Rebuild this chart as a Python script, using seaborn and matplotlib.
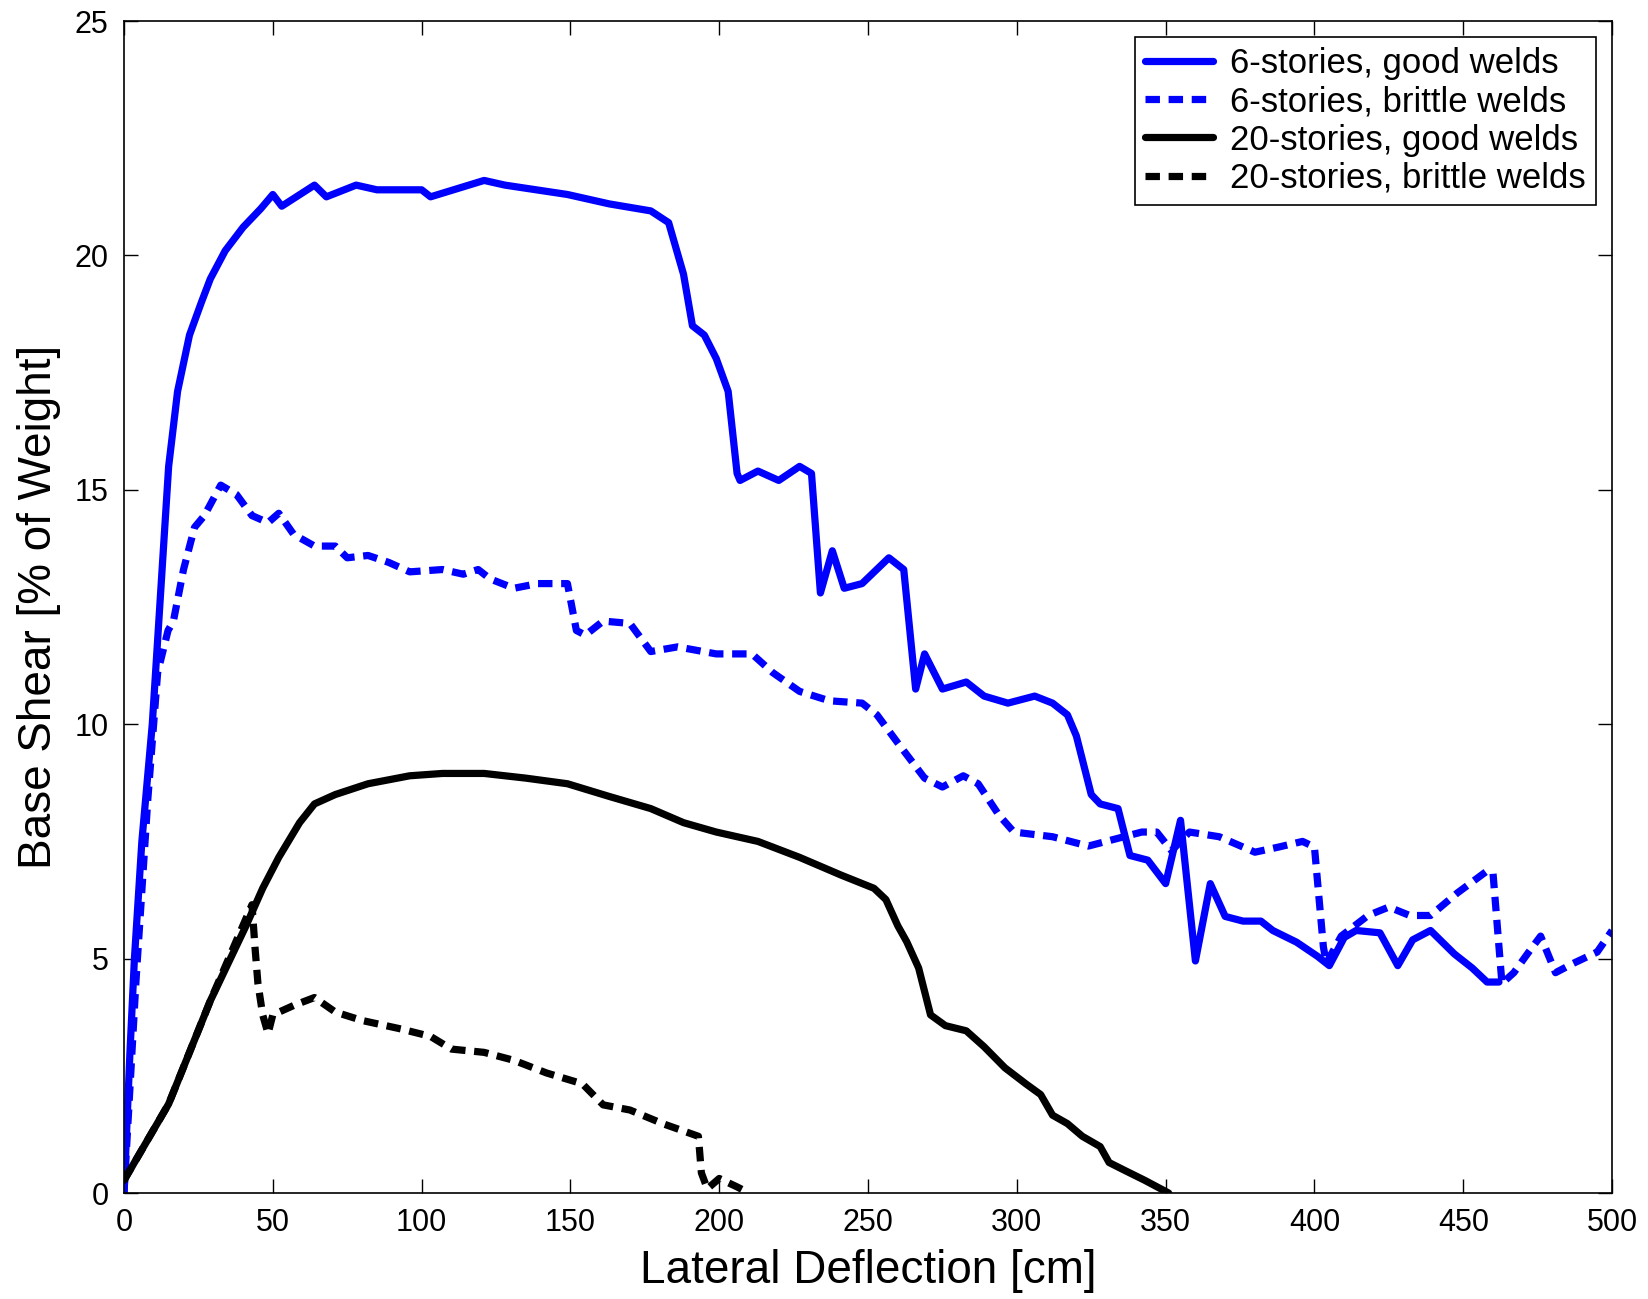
import matplotlib
matplotlib.use('agg')
import matplotlib.pyplot as plt
import pandas as pd
import seaborn as sns

# 6-stories, good welds
x_6_good = [0, 2, 3.5, 6, 9.5, 12, 15, 18, 22, 26, 29, 34, 40, 46, 50, 53, 64, 68, 78, 85, 100,
            103, 121, 128, 149, 163, 177, 183, 188, 191, 195, 199, 203, 206, 207, 213, 220, 227,
            231, 234, 238, 242, 248, 257, 262, 266, 269, 275, 283, 289, 297, 306, 312, 317, 320,
            325, 328, 334, 338, 344, 350, 355, 360, 365, 370, 376, 382, 386, 394, 401, 405, 410,
            414, 422, 428, 433, 439, 447, 453, 458, 462]
y_6_good = [0, 3, 5, 7.5, 10, 12.5, 15.5, 17.1, 18.3, 19.0, 19.5, 20.1, 20.6, 21.0, 21.3, 21.05,
            21.5, 21.25, 21.5, 21.4, 21.4, 21.25, 21.6, 21.5, 21.3, 21.1, 20.95, 20.7, 19.6, 18.5,
            18.3, 17.8, 17.1, 15.35, 15.2, 15.4, 15.2, 15.5, 15.35, 12.8, 13.7, 12.9, 13.0, 13.55,
            13.3, 10.75, 11.5, 10.75, 10.9, 10.6, 10.45, 10.6, 10.45, 10.2, 9.75, 8.5, 8.3, 8.2,
            7.2, 7.1, 6.6, 7.95, 4.95, 6.6, 5.9, 5.8, 5.8, 5.6, 5.35, 5.05, 4.85, 5.45, 5.6, 5.55,
            4.85, 5.4, 5.6, 5.1, 4.8, 4.5, 4.5]

# 6-stories, brittle welds
x_6_brittle = [0, 4, 8, 11.3, 14.8, 16.6, 20, 23.7, 27, 32.5, 37.8, 43, 48.4, 52, 57, 64, 71, 75,
               82, 89, 96, 107, 114, 119, 123, 131, 139, 149, 152, 155, 161, 170, 177, 186, 199,
               211, 218, 227, 237, 248, 253, 260, 269, 275, 282, 287, 294, 299, 312, 324, 333,
               342, 347, 352, 358, 368, 380, 388, 396, 400, 403, 404, 409, 418, 425, 432, 439,
               448, 458, 460, 463, 467, 472, 476, 481, 487, 495, 500]
y_6_brittle = [0, 4.5, 8.4, 11.1, 12.0, 12.2, 13.3, 14.2, 14.45, 15.1, 14.9, 14.45, 14.3, 14.5,
               14.05, 13.8, 13.8, 13.55, 13.6, 13.45, 13.25, 13.3, 13.2, 13.3, 13.1, 12.9, 13.0,
               13.0, 12.0, 11.9, 12.2, 12.15, 11.55, 11.65, 11.5, 11.5, 11.1, 10.7, 10.5, 10.45,
               10.2, 9.6, 8.85, 8.66, 8.9, 8.73, 8.06, 7.7, 7.6, 7.4, 7.55, 7.7, 7.7, 7.3, 7.7,
               7.6, 7.27, 7.38, 7.5, 7.38, 5.25, 4.9, 5.48, 5.92, 6.1, 5.92, 5.92, 6.4, 6.87,
               6.82, 4.47, 4.7, 5.14, 5.48, 4.7, 4.9, 5.14, 5.6]

# 20-stories, good welds
x_20_good = [0, 15, 29, 41, 46.6, 52, 59, 64, 71, 82, 96, 107, 121, 135, 149, 163, 177, 188, 199,
             213, 227, 241, 252, 256, 260, 263, 267, 271, 276, 283, 289, 296, 303, 308, 312, 317,
             322, 328, 331, 336, 343, 351]
y_20_good = [0.27, 1.9, 4.1, 5.7, 6.5, 7.16, 7.9, 8.3, 8.5, 8.73, 8.9, 8.95, 8.95, 8.85, 8.73,
             8.46, 8.2, 7.9, 7.7, 7.5, 7.16, 6.78, 6.5, 6.26, 5.7, 5.36, 4.8, 3.8, 3.57, 3.46,
             3.12, 2.67, 2.33, 2.1, 1.66, 1.48, 1.21, 0.99, 0.65, 0.49, 0.27, 0.0]

# 20-stories, brittle welds
x_20_brittle = [0, 15, 29, 43, 44, 45, 46.6, 48.4, 50, 57, 64, 71, 80, 93, 103, 110, 121, 131,
                142, 154, 161, 170, 181, 193, 194, 196, 200, 206, 210]
y_20_brittle = [0.27, 1.9, 4.1, 6.15, 5.25, 4.47, 3.8, 3.4, 3.8, 4.0, 4.17, 3.86, 3.68, 3.5,
                3.34, 3.07, 3.0, 2.83, 2.56, 2.33, 1.88, 1.77, 1.48, 1.21, 0.43, 0.09, 0.31,
                0.13, 0.0]

series = [
    ("6-stories, good welds", x_6_good, y_6_good, "#0000ff", "-"),
    ("6-stories, brittle welds", x_6_brittle, y_6_brittle, "#0000ff", (0, (2, 1.2))),
    ("20-stories, good welds", x_20_good, y_20_good, "black", "-"),
    ("20-stories, brittle welds", x_20_brittle, y_20_brittle, "black", (0, (2, 1.2))),
]

sns.set_theme(style="ticks")
plt.rcParams['font.family'] = ['Liberation Sans', 'DejaVu Sans']
plt.rcParams['text.color'] = 'black'
plt.rcParams['axes.labelcolor'] = 'black'
plt.rcParams['xtick.color'] = 'black'
plt.rcParams['ytick.color'] = 'black'

fig = plt.figure(figsize=(16.49, 12.99), dpi=100)
ax = fig.add_axes([0.0752, 0.0816, 0.9024, 0.9022])

for label, xs, ys, color, ls in series:
    df = pd.DataFrame({"x": xs, "y": ys})
    sns.lineplot(data=df, x="x", y="y", ax=ax, color=color, linewidth=5.2,
                 linestyle=ls, sort=False, estimator=None, label=label)

ax.set_xlim(0, 500)
ax.set_ylim(0, 25)
ax.set_xticks(range(0, 501, 50))
ax.set_yticks(range(0, 26, 5))
ax.tick_params(direction='in', length=10, width=1, top=True, right=True,
               labelsize=22, pad=11, color='black', labelcolor='black')
for sp in ax.spines.values():
    sp.set_visible(True)
    sp.set_linewidth(1.2)
    sp.set_color('black')

ax.set_xlabel("Lateral Deflection [cm]", fontsize=33, labelpad=8)
ax.set_ylabel("Base Shear [% of Weight]", fontsize=33, labelpad=10)

leg = ax.legend(loc='upper right', fontsize=25, frameon=True, fancybox=False,
                edgecolor='black', framealpha=1, handlelength=1.95, handletextpad=0.5,
                labelspacing=0.15, borderaxespad=0.45, borderpad=0.3)
leg.get_frame().set_linewidth(1.2)
for t in leg.get_texts():
    t.set_color('black')

fig.savefig("out.png", dpi=100)
